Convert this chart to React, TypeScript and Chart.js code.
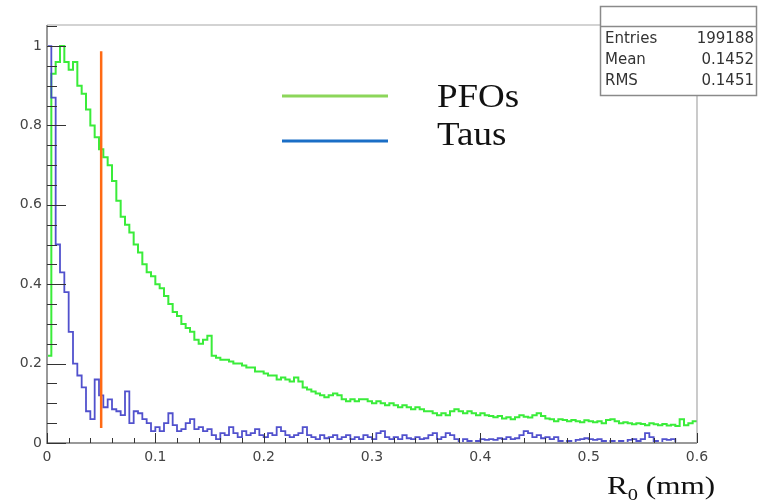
import { useEffect, useRef } from "react";
import { Chart, registerables } from "chart.js";

Chart.register(...registerables);

// ---- data ----
const BIN_WIDTH = 0.004; // mm per bin, range 0 - 0.6

const pfoValues = [
  0.22, 0.93, 0.96, 1.0, 0.96, 0.94, 0.96, 0.9, 0.88, 0.84,
  0.8, 0.77, 0.74, 0.72, 0.7, 0.66, 0.61, 0.57, 0.55, 0.53,
  0.5, 0.48, 0.45, 0.43, 0.42, 0.4, 0.39, 0.37, 0.35, 0.33,
  0.32, 0.3, 0.29, 0.28, 0.26, 0.25, 0.26, 0.27, 0.22, 0.215,
  0.21, 0.21, 0.205, 0.2, 0.2, 0.195, 0.19, 0.19, 0.18, 0.18,
  0.175, 0.17, 0.17, 0.16, 0.165, 0.16, 0.155, 0.165, 0.155, 0.14,
  0.135, 0.13, 0.125, 0.12, 0.115, 0.12, 0.125, 0.12, 0.11, 0.105,
  0.11, 0.105, 0.11, 0.11, 0.105, 0.1, 0.105, 0.1, 0.095, 0.1,
  0.095, 0.09, 0.095, 0.09, 0.085, 0.09, 0.085, 0.08, 0.08, 0.075,
  0.07, 0.075, 0.07, 0.08, 0.085, 0.08, 0.075, 0.08, 0.075, 0.07,
  0.075, 0.07, 0.068, 0.065, 0.068, 0.062, 0.065, 0.06, 0.065, 0.07,
  0.066, 0.064, 0.07, 0.075, 0.068, 0.062, 0.06, 0.055, 0.06, 0.058,
  0.055, 0.058, 0.055, 0.052, 0.057, 0.055, 0.052, 0.055, 0.05, 0.058,
  0.06, 0.055, 0.05, 0.052, 0.05, 0.047, 0.05, 0.048, 0.045, 0.05,
  0.047, 0.045, 0.048, 0.044, 0.046, 0.043, 0.06, 0.045, 0.05, 0.055,
];

const tauValues = [
  1.0, 0.87, 0.5, 0.43, 0.38, 0.28, 0.2, 0.17, 0.14, 0.08,
  0.06, 0.16, 0.12, 0.09, 0.11, 0.085, 0.08, 0.07, 0.13, 0.05,
  0.08, 0.075, 0.06, 0.05, 0.03, 0.04, 0.03, 0.05, 0.075, 0.045,
  0.03, 0.035, 0.05, 0.06, 0.035, 0.04, 0.03, 0.035, 0.02, 0.01,
  0.025, 0.02, 0.04, 0.025, 0.015, 0.03, 0.02, 0.025, 0.035, 0.02,
  0.015, 0.025, 0.02, 0.04, 0.03, 0.02, 0.015, 0.02, 0.025, 0.04,
  0.02, 0.015, 0.01, 0.02, 0.012, 0.015, 0.02, 0.01, 0.015, 0.02,
  0.01, 0.015, 0.01, 0.02, 0.015, 0.01, 0.025, 0.03, 0.015, 0.01,
  0.015, 0.01, 0.02, 0.012, 0.01, 0.015, 0.01, 0.012, 0.02, 0.025,
  0.01, 0.015, 0.025, 0.02, 0.01, 0, 0.01, 0.005, 0, 0.005,
  0.01, 0.008, 0.01, 0.008, 0.012, 0.01, 0.015, 0.01, 0.012, 0.02,
  0.03, 0.025, 0.015, 0.02, 0.012, 0.015, 0.01, 0.015, 0.005, 0,
  0.005, 0, 0.008, 0.01, 0.012, 0.01, 0.008, 0.01, 0.005, 0,
  0.005, 0, 0.005, 0, 0.008, 0.01, 0.005, 0.01, 0.025, 0.015,
  0.005, 0, 0.01, 0.008, 0.01, 0, 0, 0, 0, 0,
];

const cutX = [0.05, 0.05];
const cutY = [0.038, 0.987];

const xTickValues = [0, 0.1, 0.2, 0.3, 0.4, 0.5, 0.6];
const xTickLabels = ["0", "0.1", "0.2", "0.3", "0.4", "0.5", "0.6"];
const yTickValues = [0, 0.2, 0.4, 0.6, 0.8, 1];
const yTickLabels = ["0", "0.2", "0.4", "0.6", "0.8", "1"];

const legendLabels = ["PFOs", "Taus"];
const statsLabels = ["Entries", "Mean", "RMS"];
const statsValues = ["199188", "0.1452", "0.1451"];

// ---- styles ----
const GREEN = "#3aec3a";
const BLUE = "rgba(62,62,200,0.9)";
const ORANGE = "#ff6a14";
const LEG_GREEN = "#8cd65a";
const LEG_BLUE = "#1a6ec6";

function toSteps(vals: number[]) {
  const pts = vals.map((v, i) => ({ x: i * BIN_WIDTH, y: v }));
  pts.push({ x: vals.length * BIN_WIDTH, y: vals[vals.length - 1] });
  return pts;
}

function stretchText(ctx: CanvasRenderingContext2D, text: string, x: number, y: number, sx: number) {
  ctx.save();
  ctx.translate(x, y);
  ctx.scale(sx, 1);
  ctx.fillText(text, 0, 0);
  ctx.restore();
  return ctx.measureText(text).width * sx;
}

const decorPlugin = {
  id: "decor",
  afterDatasetsDraw(chart: any) {
    const { ctx, chartArea: ca, scales } = chart;
    const xs = scales.x;
    const ys = scales.y;
    ctx.save();
    // frame
    ctx.strokeStyle = "#a8a8a8";
    ctx.lineWidth = 1.2;
    ctx.beginPath();
    ctx.moveTo(ca.left, ca.top);
    ctx.lineTo(ca.right, ca.top);
    ctx.lineTo(ca.right, ca.bottom);
    ctx.stroke();
    ctx.strokeStyle = "#999";
    ctx.lineWidth = 2;
    ctx.beginPath();
    ctx.moveTo(ca.left, ca.top);
    ctx.lineTo(ca.left, ca.bottom);
    ctx.lineTo(ca.right, ca.bottom);
    ctx.stroke();
    // ticks
    ctx.strokeStyle = "#333";
    ctx.lineWidth = 1;
    ctx.beginPath();
    for (let k = 0; k <= 21; k++) {
      const v = k * 0.05;
      const y = Math.round(ys.getPixelForValue(v)) + 0.5;
      if (y < ca.top) continue;
      const len = k % 4 === 0 ? 19 : 10;
      ctx.moveTo(ca.left, y);
      ctx.lineTo(ca.left + len, y);
    }
    for (let k = 0; k <= 30; k++) {
      const v = k * 0.02;
      const x = Math.round(xs.getPixelForValue(v)) + 0.5;
      const len = k % 5 === 0 ? 10 : 5;
      ctx.moveTo(x, ca.bottom);
      ctx.lineTo(x, ca.bottom - len);
    }
    ctx.stroke();
    ctx.restore();
  },
  afterDraw(chart: any) {
    const { ctx } = chart;
    ctx.save();
    // stats box
    const bx = 600, by = 6, bw = 156, bh = 89;
    ctx.fillStyle = "#fff";
    ctx.fillRect(bx, by, bw, bh);
    ctx.strokeStyle = "#8a8a8a";
    ctx.lineWidth = 1.5;
    ctx.strokeRect(bx + 0.5, by + 0.5, bw, bh);
    ctx.beginPath();
    ctx.moveTo(bx, 26.5);
    ctx.lineTo(bx + bw, 26.5);
    ctx.stroke();
    ctx.font = "15px 'DejaVu Sans'";
    ctx.fillStyle = "#333";
    ctx.textBaseline = "middle";
    const rows = [39, 60, 81];
    statsLabels.forEach((l, i) => {
      ctx.textAlign = "left";
      ctx.fillText(l, bx + 5, rows[i]);
      ctx.textAlign = "right";
      ctx.fillText(statsValues[i], bx + bw - 2, rows[i]);
    });
    // legend
    const legColors = [LEG_GREEN, LEG_BLUE];
    const legLineY = [96, 141];
    const legTextY = [107, 145];
    legendLabels.forEach((l, i) => {
      ctx.strokeStyle = legColors[i];
      ctx.lineWidth = 3;
      ctx.beginPath();
      ctx.moveTo(282, legLineY[i]);
      ctx.lineTo(388, legLineY[i]);
      ctx.stroke();
      ctx.fillStyle = "#111";
      ctx.font = "33px 'Liberation Serif'";
      ctx.textAlign = "left";
      ctx.textBaseline = "alphabetic";
      stretchText(ctx, l, 437, legTextY[i], 1.12);
    });
    // x title R_0 (mm)
    ctx.fillStyle = "#111";
    ctx.textBaseline = "alphabetic";
    ctx.textAlign = "left";
    ctx.font = "26px 'Liberation Serif'";
    let x = 607;
    x += stretchText(ctx, "R", x, 494, 1.2);
    ctx.font = "17px 'Liberation Serif'";
    x += stretchText(ctx, "0", x, 500, 1.2);
    ctx.font = "26px 'Liberation Serif'";
    stretchText(ctx, " (mm)", x, 494, 1.2);
    ctx.restore();
  },
};

export default function App() {
  const ref = useRef<HTMLCanvasElement | null>(null);
  useEffect(() => {
    if (!ref.current) return;
    const chart = new Chart(ref.current, {
      type: "line",
      data: {
        datasets: [
          {
            label: "cut",
            data: cutX.map((v, i) => ({ x: v, y: cutY[i] })),
            borderColor: ORANGE,
            borderWidth: 2.5,
            pointRadius: 0,
            order: 0,
          },
          {
            label: legendLabels[1],
            data: toSteps(tauValues),
            borderColor: BLUE,
            borderWidth: 1.8,
            pointRadius: 0,
            stepped: "before",
            order: 1,
          },
          {
            label: legendLabels[0],
            data: toSteps(pfoValues),
            borderColor: GREEN,
            borderWidth: 2,
            pointRadius: 0,
            stepped: "before",
            order: 2,
          },
        ],
      },
      options: {
        responsive: false,
        animation: false,
        layout: { padding: { top: 25, right: 66, left: 0, bottom: 0 } },
        plugins: {
          legend: { display: false },
          tooltip: { enabled: false },
          title: { display: false },
        },
        scales: {
          x: {
            type: "linear",
            min: 0,
            max: 0.6,
            afterBuildTicks: (s: any) => {
              s.ticks = xTickValues.map((v) => ({ value: v }));
            },
            afterFit: (s: any) => {
              s.height = 61;
            },
            ticks: {
              callback: (_v: any, i: number) => xTickLabels[i],
              font: { family: "'DejaVu Sans'", size: 14 },
              color: "#444",
              padding: 6,
              maxRotation: 0,
              autoSkip: false,
            },
            grid: { display: false, drawTicks: false },
            border: { display: false },
          },
          y: {
            type: "linear",
            min: 0,
            max: 1.053,
            afterBuildTicks: (s: any) => {
              s.ticks = yTickValues.map((v) => ({ value: v }));
            },
            afterFit: (s: any) => {
              s.width = 47;
            },
            ticks: {
              callback: (_v: any, i: number) => yTickLabels[i],
              font: { family: "'DejaVu Sans'", size: 14 },
              color: "#444",
              padding: 5,
              autoSkip: false,
            },
            grid: { display: false, drawTicks: false },
            border: { display: false },
          },
        },
      },
      plugins: [decorPlugin],
    });
    return () => chart.destroy();
  }, []);
  return (
    <div style={{ position: "absolute", left: 0, top: 0, width: 763, height: 504, background: "#fff" }}>
      <canvas ref={ref} width={763} height={504} style={{ display: "block" }} />
    </div>
  );
}
